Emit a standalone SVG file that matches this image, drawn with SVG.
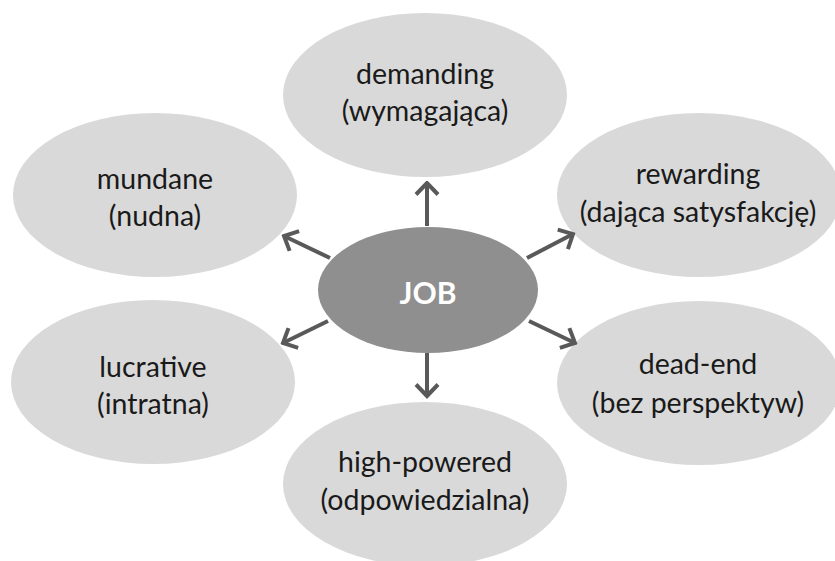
<svg xmlns="http://www.w3.org/2000/svg" width="835" height="561" viewBox="0 0 835 561">
<style>
.o{fill:#d9d9d9}
.c{fill:#8f8f8f}
.t{font-family:Lato,"Liberation Sans",sans-serif;font-size:28.5px;fill:#1a1a1a;text-anchor:middle}
.j{font-family:Lato,"Liberation Sans",sans-serif;font-size:30px;font-weight:bold;fill:#fff;text-anchor:middle}
.a{stroke:#595959;stroke-width:4;fill:none;marker-end:url(#ah)}
</style>
<defs>
<marker id="ah" viewBox="0 0 16 26" refX="13.5" refY="13" markerWidth="16" markerHeight="26" markerUnits="userSpaceOnUse" orient="auto">
<path d="M2,2 L13.5,13 L2,24" fill="none" stroke="#595959" stroke-width="4"/>
</marker>
</defs>
<rect width="835" height="561" fill="#fff"/>
<g id="demanding"><ellipse class="o" cx="425" cy="95" rx="142" ry="82"/><text class="t" x="425" y="84">demanding</text><text class="t" x="425" y="121">(wymagająca)</text></g>
<g id="mundane"><ellipse class="o" cx="155" cy="195" rx="142" ry="82"/><text class="t" x="155" y="189">mundane</text><text class="t" x="155" y="226">(nudna)</text></g>
<g id="rewarding"><ellipse class="o" cx="699" cy="195" rx="142" ry="82"/><text class="t" x="698" y="184">rewarding</text><text class="t" x="698" y="222">(dająca satysfakcję)</text></g>
<g id="lucrative"><ellipse class="o" cx="153" cy="382" rx="142" ry="82"/><text class="t" x="153" y="377">lucrative</text><text class="t" x="153" y="414">(intratna)</text></g>
<g id="dead-end"><ellipse class="o" cx="699" cy="383" rx="142" ry="82"/><text class="t" x="698" y="374">dead-end</text><text class="t" x="698" y="413">(bez perspektyw)</text></g>
<g id="high-powered"><ellipse class="o" cx="425" cy="484" rx="142" ry="82"/><text class="t" x="425" y="472">high-powered</text><text class="t" x="425" y="510">(odpowiedzialna)</text></g>
<g id="job"><ellipse class="c" cx="428" cy="290" rx="110" ry="63"/><text class="j" x="428" y="304">JOB</text></g>
<g id="connectors">
<line class="a" x1="427" y1="226" x2="427" y2="183"/>
<line class="a" x1="427" y1="353" x2="427" y2="396"/>
<line class="a" x1="330" y1="258" x2="284" y2="236"/>
<line class="a" x1="527" y1="258" x2="573" y2="234"/>
<line class="a" x1="328" y1="321" x2="283" y2="343"/>
<line class="a" x1="529" y1="321" x2="575" y2="343"/>
</g>
</svg>
